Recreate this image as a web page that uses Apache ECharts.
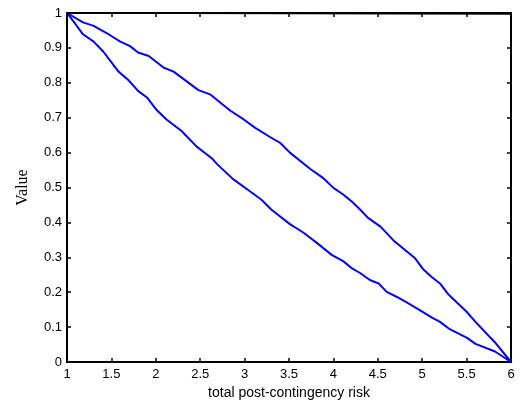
<!DOCTYPE html>
<html>
<head>
<meta charset="utf-8">
<script src="https://cdn.jsdelivr.net/npm/echarts@6/dist/echarts.min.js"></script>
<style>
  html, body { margin: 0; padding: 0; background: #fff; }
  #chart { width: 524px; height: 406px; }
</style>
</head>
<body>
<div id="chart"></div>
<script>
// values
const upperX = [1, 1.18, 1.3, 1.48, 1.6, 1.71, 1.8, 1.92, 2.09, 2.2, 2.48, 2.61, 2.84, 2.99, 3.12, 3.29, 3.4, 3.51, 3.74, 3.89, 4.0, 4.11, 4.21, 4.3, 4.39, 4.53, 4.69, 4.92, 5.01, 5.11, 5.2, 5.29, 5.5, 5.6, 5.82, 6];
const upperY = [1, 0.973, 0.963, 0.937, 0.918, 0.905, 0.887, 0.877, 0.843, 0.832, 0.779, 0.767, 0.72, 0.695, 0.671, 0.644, 0.628, 0.6, 0.553, 0.526, 0.499, 0.48, 0.459, 0.437, 0.413, 0.388, 0.345, 0.297, 0.266, 0.243, 0.225, 0.195, 0.144, 0.115, 0.056, 0];

const lowerX = [1, 1.09, 1.18, 1.3, 1.41, 1.58, 1.69, 1.8, 1.9, 2.01, 2.12, 2.29, 2.46, 2.63, 2.69, 2.87, 3.04, 3.19, 3.3, 3.4, 3.51, 3.66, 3.81, 3.98, 4.11, 4.21, 4.3, 4.41, 4.51, 4.6, 4.71, 4.83, 4.99, 5.11, 5.2, 5.31, 5.5, 5.6, 5.82, 6];
const lowerY = [1, 0.97, 0.939, 0.918, 0.889, 0.832, 0.808, 0.777, 0.758, 0.722, 0.695, 0.662, 0.617, 0.584, 0.567, 0.524, 0.493, 0.465, 0.437, 0.417, 0.395, 0.371, 0.342, 0.307, 0.289, 0.268, 0.255, 0.235, 0.225, 0.201, 0.187, 0.17, 0.146, 0.127, 0.115, 0.094, 0.07, 0.052, 0.03, 0];

const topX = [1, 6];
const topY = [1, 0.997];

const zip = (xs, ys) => xs.map((x, i) => [x, ys[i]]);

const labelFont = { color: "#000", fontFamily: "Liberation Sans, Arial", fontSize: 13 };
const frameLine = { onZero: false, lineStyle: { color: "#000", width: 2 } };
const inTicks = { inside: true, length: 4, lineStyle: { color: "#000", width: 1.5 } };

const chart = echarts.init(document.getElementById("chart"));
chart.setOption({
  animation: false,
  grid: { left: 67, right: 13, top: 13, bottom: 44 },
  xAxis: [
    {
      type: "value", min: 1, max: 6, interval: 0.5, position: "bottom",
      axisLine: frameLine, axisTick: inTicks, splitLine: { show: false },
      axisLabel: Object.assign({ margin: 6 }, labelFont),
      name: "total post-contingency risk", nameLocation: "middle", nameGap: 20,
      nameTextStyle: { color: "#000", fontFamily: "Liberation Sans, Arial", fontSize: 14 },
    },
    {
      type: "value", min: 1, max: 6, interval: 0.5, position: "top",
      axisLine: frameLine, axisTick: inTicks, splitLine: { show: false },
      axisLabel: { show: false },
    },
  ],
  yAxis: [
    {
      type: "value", min: 0, max: 1, interval: 0.1, position: "left",
      axisLine: frameLine, axisTick: inTicks, splitLine: { show: false },
      axisLabel: Object.assign({ margin: 5 }, labelFont),
      name: "Value", nameLocation: "middle", nameGap: 36,
      nameTextStyle: { color: "#000", fontFamily: "Liberation Serif, Times New Roman", fontSize: 16 },
    },
    {
      type: "value", min: 0, max: 1, interval: 0.1, position: "right",
      axisLine: frameLine, axisTick: inTicks, splitLine: { show: false },
      axisLabel: { show: false },
    },
  ],
  series: [
    {
      type: "line", data: zip(upperX, upperY), showSymbol: false,
      lineStyle: { color: "#0000ff", width: 2 },
    },
    {
      type: "line", data: zip(lowerX, lowerY), showSymbol: false,
      lineStyle: { color: "#0000ff", width: 2 },
    },
    {
      type: "line", data: zip(topX, topY), showSymbol: false,
      lineStyle: { color: "#000", width: 1.5 },
    },
  ],
});
</script>
</body>
</html>
